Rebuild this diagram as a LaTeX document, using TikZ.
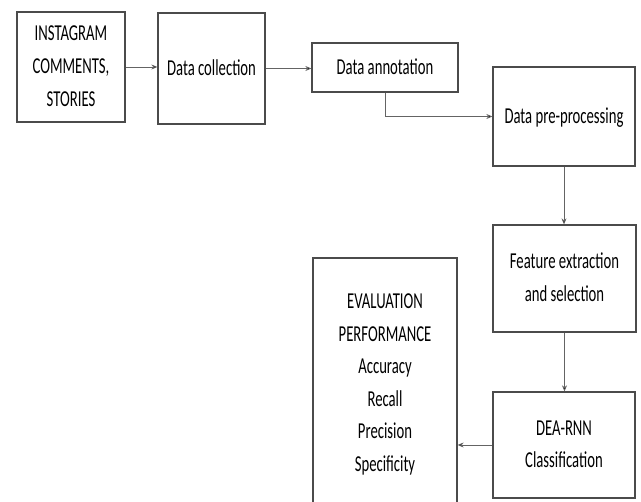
\documentclass[tikz,border=0pt]{standalone}
\usepackage{fontspec}
\setmainfont{Carlito}
\usepackage{graphicx}
\usetikzlibrary{arrows.meta}
\definecolor{boxgray}{RGB}{75,75,75}
\definecolor{linegray}{RGB}{100,100,100}
\newcommand{\vtext}[1]{\scalebox{1}[1.55]{\begin{tabular}{@{}c@{}}#1\end{tabular}}}
\tikzset{%
    stage/.style={draw=boxgray, line width=1.3pt, inner sep=0pt,
        font=\fontsize{14.7}{21}\selectfont, text=black},
    flow/.style={draw=linegray, line width=0.7pt,
        -{Stealth[length=6pt,width=5pt,fill=black]}}
}
\begin{document}
\begin{tikzpicture}[x=1pt,y=-1pt]
    \clip (0,0) rectangle (641,502);
    \fill[white] (0,0) rectangle (641,502);
%-----------------------------------------------
    \node[stage, minimum width=108, minimum height=110] (insta) at (71,67)
        {\vtext{INSTAGRAM\\COMMENTS,\\STORIES}};
    \node[stage, minimum width=107, minimum height=111] (collect) at (211.5,68.5)
        {\vtext{Data collection}};
    \node[stage, minimum width=146, minimum height=49] (annot) at (385,67.5)
        {\vtext{Data annotation}};
    \node[stage, minimum width=142, minimum height=99] (prep) at (564,116.5)
        {\vtext{Data pre-processing}};
    \node[stage, minimum width=143, minimum height=107] (feat) at (564.5,278.5)
        {\vtext{Feature extraction\\and selection}};
    \node[stage, minimum width=142, minimum height=106] (dea) at (564,445)
        {\vtext{DEA-RNN\\Classification}};
    \node[stage, minimum width=144, minimum height=251] (eval) at (385,383.5)
        {\vtext{EVALUATION\\PERFORMANCE\\Accuracy\\Recall\\Precision\\Specificity}};
%-----------------------------------------------
    \draw[flow] (insta.east) -- (insta.east -| collect.west);
    \draw[flow] (collect.east) -- (collect.east -| annot.west);
    \draw[flow] (annot.south) |- (prep.west);
    \draw[flow] (prep.south) -- (prep.south |- feat.north);
    \draw[flow] (feat.south) -- (feat.south |- dea.north);
    \draw[flow] (dea.west) -- (dea.west -| eval.east);
\end{tikzpicture}
\end{document}
